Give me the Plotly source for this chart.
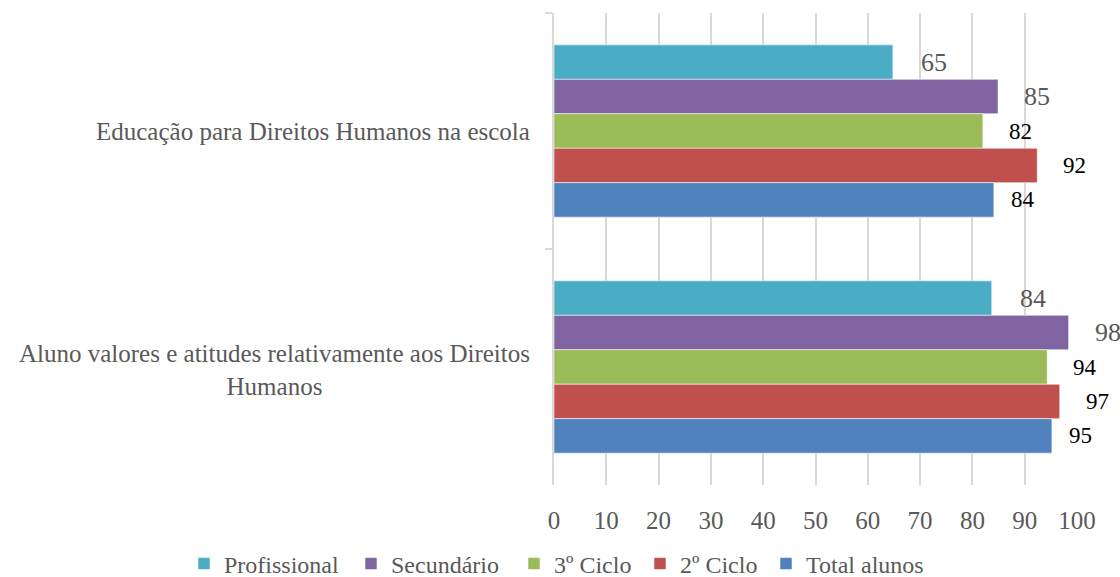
import plotly.graph_objects as go

categories = ["Educação para Direitos Humanos na escola",
              "Aluno valores e atitudes relativamente aos Direitos<br>Humanos"]
series_names = ["Profissional", "Secundário", "3º Ciclo", "2º Ciclo", "Total alunos"]
profissional = [64.8, 83.7]
secundario = [84.9, 98.4]
ciclo3 = [82.0, 94.3]
ciclo2 = [92.4, 96.7]
total = [84.1, 95.2]
series_values = [profissional, secundario, ciclo3, ciclo2, total]
x_ticks = [0, 10, 20, 30, 40, 50, 60, 70, 80, 90, 100]

colors = ["#4BACC6", "#8064A2", "#9BBB59", "#C0504D", "#4F81BD"]
label_colors = ["#595959", "#595959", "#000000", "#000000", "#000000"]
label_sizes = [26, 26, 23, 23, 23]
label_xshift = [26, 24, 24, 24, 15]
legend_text_px = [220, 387, 550, 676, 802]   # left edge of each legend entry's text

FONT = "Liberation Serif"
GRAY = "#595959"
GRID = "#d9d9d9"

# layout geometry
L, R, T, B = 554, 43, 13, 92
W, H = 1120, 577
plot_w = W - L - R
plot_h = H - T - B
band = plot_h / len(categories)
bargap = 0.27
bar_px = band * (1 - bargap) / len(series_names)

fig = go.Figure()
legend_ids = ["legend"] + [f"legend{k}" for k in range(2, len(series_names) + 1)]
for name, vals, c, lid in zip(series_names, series_values, colors, legend_ids):
    fig.add_trace(go.Bar(
        name=name, y=categories, x=vals, orientation="h",
        marker=dict(color=c, line=dict(color="rgba(255,255,255,0.55)", width=1)),
        hoverinfo="x+name", legend=lid,
    ))

annotations = []
for i, vals in enumerate(series_values):
    for cat, v in zip(categories, vals):
        annotations.append(dict(
            x=v, y=cat, xref="x", yref="y", text=f"{v:.0f}", showarrow=False,
            xanchor="left", yanchor="middle", xshift=label_xshift[i],
            yshift=(2 - i) * bar_px,
            font=dict(family=FONT, size=label_sizes[i], color=label_colors[i]),
        ))
for j, cat in enumerate(categories):
    annotations.append(dict(
        x=0, y=cat, xref="paper", yref="y", text=cat, showarrow=False,
        xanchor="right", yanchor="middle", xshift=-22, yshift=-3 * j,
        align="center",
        font=dict(family=FONT, size=25, color=GRAY),
    ))

legends = {}
for lid, tx in zip(legend_ids, legend_text_px):
    legends[lid] = dict(
        orientation="h", xref="paper", yref="paper",
        x=(tx - 36 - L) / plot_w, xanchor="left",
        y=-(564 - (H - B)) / plot_h, yanchor="middle",
        font=dict(family=FONT, size=24, color=GRAY),
        itemwidth=30, bgcolor="rgba(0,0,0,0)",
    )

fig.update_layout(
    width=W, height=H,
    margin=dict(l=L, r=R, t=T, b=B, pad=0, autoexpand=False),
    plot_bgcolor="white", paper_bgcolor="white",
    barmode="group", bargap=bargap, bargroupgap=0,
    font=dict(family=FONT, color=GRAY),
    showlegend=True,
    annotations=annotations,
    xaxis=dict(range=[0, 100], tickvals=x_ticks, ticktext=[str(t) for t in x_ticks],
               showgrid=True, gridcolor=GRID, gridwidth=2, zeroline=False,
               showline=False, ticks="", ticklabelstandoff=18,
               tickfont=dict(family=FONT, size=25, color=GRAY), fixedrange=True,
               automargin=False),
    yaxis=dict(autorange="reversed", showticklabels=False, showgrid=False,
               showline=True, linecolor=GRID, linewidth=2,
               ticks="outside", tickson="boundaries", ticklen=7, tickcolor=GRID,
               tickwidth=2, zeroline=False, fixedrange=True, automargin=False),
    **legends,
)

fig.write_html("out.html", config={"displayModeBar": False})

# remove the browser's default page margin so the figure sits at (0, 0)
with open("out.html", encoding="utf-8") as f:
    html = f.read()
html = html.replace("<body>", '<body style="margin:0;padding:0;overflow:hidden">', 1)
with open("out.html", "w", encoding="utf-8") as f:
    f.write(html)
